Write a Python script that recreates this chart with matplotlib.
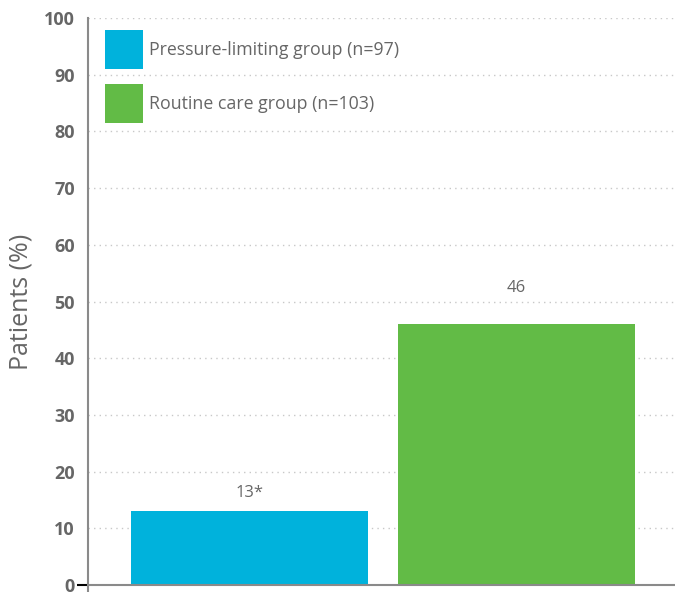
import matplotlib.pyplot as plt
from matplotlib.patches import Patch

# data
groups = ["Pressure-limiting group (n=97)", "Routine care group (n=103)"]
values = [13, 46]
value_labels = ["13*", "46"]
colors = ["#00b2dc", "#62bb46"]
yticks = list(range(0, 101, 10))

grey = "#666666"
axis_grey = "#8a8a8a"

plt.rcParams['font.family'] = ['Open Sans', 'DejaVu Sans']

fig = plt.figure(figsize=(6.75, 5.92), dpi=100)
ax = fig.add_axes([0.1304, 0.0, 0.8696, 0.9696])

x = range(len(values))
ax.bar(x, values, width=0.888, color=colors, zorder=3)

# value labels above bars (offsets as drawn in the reference)
label_offsets = [3.2, 6.4]
for xi, v, lab, off in zip(x, values, value_labels, label_offsets):
    ax.text(xi, v + off, lab, ha="center", va="center", fontsize=12, color=grey)

ax.set_xlim(-0.605, 1.594)
ax.set_ylim(-1.23, 100)
ax.set_yticks(yticks)
ax.set_yticklabels([str(t) for t in yticks], fontsize=13, fontweight="bold", color=grey)
ax.set_xticks([])

# dotted gridlines
for t in yticks[1:]:
    ax.axhline(t, color="#c8c8c8", linestyle=(0, (1, 3)), linewidth=1, zorder=1)
ax.axhline(0, color=axis_grey, linewidth=1.5, zorder=4)

for s in ["top", "right", "bottom"]:
    ax.spines[s].set_visible(False)
ax.spines["left"].set_color(axis_grey)
ax.spines["left"].set_linewidth(1.5)

ax.tick_params(axis="y", length=0, pad=9.5)
t0 = ax.yaxis.get_major_ticks()[0]
t0.tick1line.set_markersize(8)
t0.tick1line.set_markeredgewidth(1.5)
t0.tick1line.set_color(axis_grey)

ax.set_ylabel("Patients (%)", fontsize=18, color=grey, va="center")
ax.yaxis.set_label_coords(-0.114, 0.505)

handles = [Patch(facecolor=c, edgecolor="none") for c in colors]
ax.legend(handles, groups, loc="upper left", bbox_to_anchor=(0.029, 0.979),
          frameon=False, borderpad=0, borderaxespad=0, fontsize=12.8,
          handlelength=2.15, handleheight=3.0, handletextpad=0.35,
          labelspacing=0.85, labelcolor=grey)

fig.savefig("out.png", dpi=100)
